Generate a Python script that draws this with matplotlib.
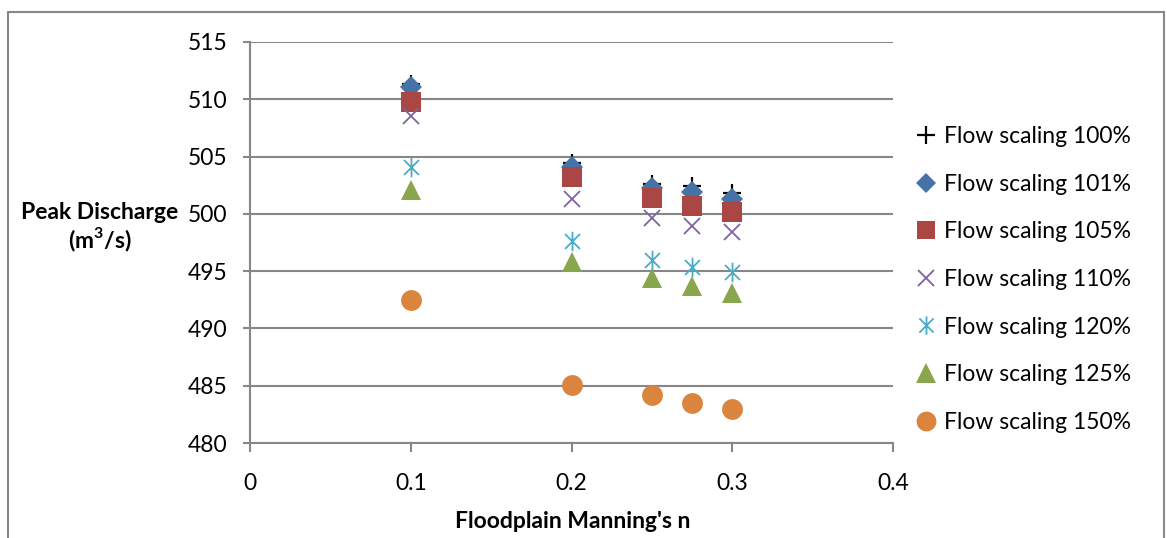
import matplotlib
matplotlib.use("Agg")
import matplotlib.pyplot as plt
from matplotlib.path import Path
from matplotlib.patches import Rectangle

plt.rcParams['font.family'] = ['Lato', 'DejaVu Sans']
plt.rcParams['mathtext.fontset'] = 'custom'
plt.rcParams['mathtext.rm'] = 'Lato'
plt.rcParams['mathtext.bf'] = 'Lato:bold'

manning_n = [0.1, 0.2, 0.25, 0.275, 0.3]
labels = ["Flow scaling 100%", "Flow scaling 101%", "Flow scaling 105%",
          "Flow scaling 110%", "Flow scaling 120%", "Flow scaling 125%",
          "Flow scaling 150%"]
s100 = [511.3, 504.4, 502.6, 502.4, 501.8]
s101 = [511.1, 504.1, 502.3, 501.9, 501.3]
s105 = [509.8, 503.2, 501.35, 500.7, 500.2]
s110 = [508.5, 501.3, 499.6, 498.9, 498.4]
s120 = [504.1, 497.6, 496.0, 495.4, 494.9]
s125 = [502.1, 495.8, 494.4, 493.7, 493.1]
s150 = [492.5, 485.1, 484.2, 483.5, 483.0]
series = [s100, s101, s105, s110, s120, s125, s150]

xticks = [0, 0.1, 0.2, 0.3, 0.4]
yticks = [480, 485, 490, 495, 500, 505, 510, 515]

star = Path([(-1, -1), (1, 1), (-1, 1), (1, -1), (0, -1.3), (0, 1.3)],
            [Path.MOVETO, Path.LINETO, Path.MOVETO, Path.LINETO, Path.MOVETO, Path.LINETO])

styles = [
    dict(marker='+', color='black', ms=13, mew=1.6),
    dict(marker='D', color='#4572A7', ms=11, mew=0),
    dict(marker='s', color='#AA4643', ms=14, mew=0),
    dict(marker='x', color='#7E63A0', ms=12, mew=1.3),
    dict(marker=star, color='#4BACC6', ms=14, mew=1.3),
    dict(marker='^', color='#89A54E', ms=15, mew=0),
    dict(marker='o', color='#DB843D', ms=15, mew=0),
]

FS = 16.5

fig = plt.figure(figsize=(11.67, 5.38), dpi=100)
ax = fig.add_axes([250/1167, 1-443/538, (893-250)/1167, (443-42)/538])

for vals, lab, st in zip(series, labels, styles):
    ax.plot(manning_n, vals, linestyle='none', label=lab, **st)

ax.set_xlim(0, 0.4)
ax.set_ylim(480, 515)
ax.set_xticks(xticks)
ax.set_xticklabels([f"{t:g}" for t in xticks])
ax.set_yticks(yticks)
ax.grid(axis='y', color='#878787', linewidth=1.5)
ax.set_axisbelow(True)
for s in ['top', 'right']:
    ax.spines[s].set_visible(False)
for s in ['left', 'bottom']:
    ax.spines[s].set_color('#878787')
    ax.spines[s].set_linewidth(1.5)
ax.tick_params(axis='both', colors='#878787', width=1.5, labelsize=16.5,
               labelcolor='black')
ax.tick_params(axis='y', length=5, pad=11)
ax.tick_params(axis='x', length=6.5, pad=15)

fig.text(573/1167, 1-522/538, "Floodplain Manning's n", fontsize=FS, fontweight='bold',
         ha='center', va='center')
fig.text(100/1167, 1-228/538, "Peak Discharge\n(m$^\\mathbf{3}$/s)", fontsize=FS,
         fontweight='bold', ha='center', va='center', multialignment='center',
         linespacing=1.15)

fig.legend(loc='upper left', bbox_to_anchor=(905/1167, 1-117/538), frameon=False,
           fontsize=FS, handlelength=1.0, handletextpad=0.3, labelspacing=1.16,
           borderaxespad=0, markerscale=0.95)

fig.patches.append(Rectangle((8/1167, -0.1), (1164-8)/1167, (538-12)/538 + 0.1,
                             transform=fig.transFigure, fill=False,
                             ec='#888888', lw=1.5))

fig.savefig("out.png", dpi=100)
